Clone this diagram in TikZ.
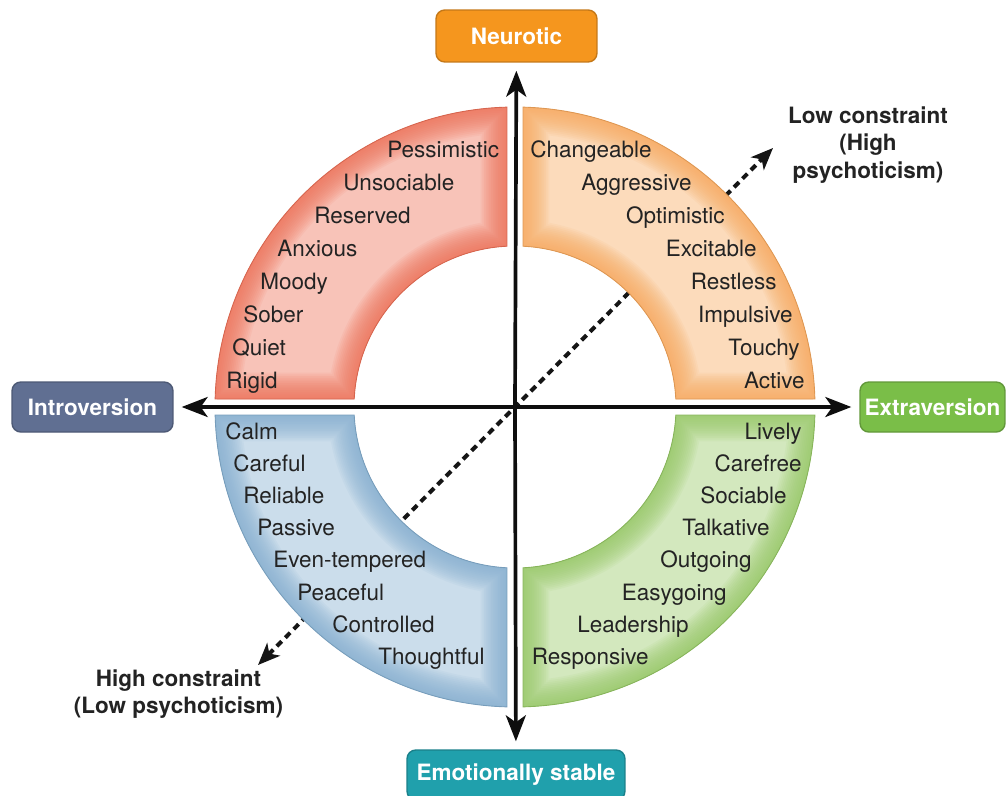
\documentclass[tikz,border=0pt]{standalone}
\usepackage{fontspec}
\setmainfont{TeX Gyre Heros}
\usetikzlibrary{arrows.meta,positioning}
\definecolor{salmon}{RGB}{238,112,86}
\definecolor{peach}{RGB}{247,168,92}
\definecolor{sprout}{RGB}{150,200,100}
\definecolor{sky}{RGB}{132,174,208}
\definecolor{tangerine}{RGB}{245,150,30}
\definecolor{slate}{RGB}{96,111,146}
\definecolor{grass}{RGB}{122,190,72}
\definecolor{lagoon}{RGB}{32,160,172}
\definecolor{ink}{RGB}{35,35,35}
% one quarter of the ring, #1 = angle offset
\newcommand\ringpath[1]{({#1+88.47}:300) arc[start angle={#1+88.47},end angle={#1+1.53},radius=300]
  -- ({#1+2.85}:161) arc[start angle={#1+2.85},end angle={#1+87.15},radius=161] -- cycle}
\tikzset{
  x=0.02cm,y=0.02cm,
  axis/.style={-{Stealth[length=0.52cm,width=0.4cm,inset=0.14cm]},line width=2.1pt,draw=ink!40!black,
    shorten >=0.16cm},
  constraint/.style={{Stealth[length=0.44cm,width=0.36cm,inset=0.12cm]}-{Stealth[length=0.44cm,width=0.36cm,inset=0.12cm]},
    line width=2.3pt,draw=ink!60!black,dash pattern=on 0.14cm off 0.1cm},
  axislabel/.style={fill=#1,draw=#1!80!black,line width=0.8pt,rounded corners=5pt,text=white,
    font=\fontsize{12.8}{15}\selectfont\bfseries,minimum height=1.0cm,inner sep=0pt},
  note/.style={font=\fontsize{12.8}{15.6}\selectfont\bfseries,text=ink,inner sep=0pt,align=center},
  word/.style={font=\fontsize{12.8}{15}\selectfont,text=ink,inner sep=0pt},
  pics/ringpart/.style 2 args={code={
    \fill[#2!42!white] \ringpath{#1};
    \begin{scope}
      \clip \ringpath{#1};
      \foreach \w in {2,4,...,30} \draw[#2,line width=\w pt,opacity=0.09] \ringpath{#1};
    \end{scope}
    \draw[#2!90!black,line width=0.5pt] \ringpath{#1};
  }},
}
\begin{document}
\begin{tikzpicture}
  \useasboundingbox (-515,-388) rectangle (491,407);
  \coordinate (c) at (0,0);
  \coordinate (lo) at (-257,-258);
  \coordinate (hi) at (258,259);
  \draw[constraint] (lo) -- (hi);
  \pic at (c) {ringpart={0}{peach}};
  \pic at (c) {ringpart={90}{salmon}};
  \pic at (c) {ringpart={180}{sky}};
  \pic at (c) {ringpart={270}{sprout}};
  \node[axislabel=tangerine,minimum width=3.22cm,minimum height=1.04cm] (neu) at (1.5,371) {Neurotic};
  \node[axislabel=slate,minimum width=3.22cm] (intro) at (-422.5,0) {Introversion};
  \node[axislabel=grass,minimum width=2.9cm] (extra) at (417.5,0) {Extraversion};
  \node[axislabel=lagoon,minimum width=4.36cm] (emo) at (1,-368) {Emotionally stable};
  \draw[axis] (c) -- (neu);
  \draw[axis] (c) -- (emo);
  \draw[axis] (c) -- (intro);
  \draw[axis] (c) -- (extra);
  \node[note] (lowc) at (353,262) {Low constraint\\(High\\psychoticism)};
  \node[note] (highc) at (-336.5,-287) {High constraint\\(Low psychoticism)};
  % trait words
  \foreach \t/\x [count=\i from 0] in {Pessimistic/-128,Unsociable/-172,Reserved/-201,Anxious/-238,
      Moody/-255,Sober/-272,Quiet/-283,Rigid/-289}
    \node[word,anchor=base west] (tl\i) at (\x,{249.5-33*\i}) {\t};
  \foreach \t/\x [count=\i from 0] in {Changeable/137,Aggressive/177,Optimistic/210,Excitable/242,
      Restless/262,Impulsive/278,Touchy/285,Active/290}
    \node[word,anchor=base east] (tr\i) at (\x,{249.5-33*\i}) {\t};
  \foreach \t/\x [count=\i from 0] in {Calm/-290,Careful/-282,Reliable/-272,Passive/-258,
      Even-tempered/-242,Peaceful/-218,Controlled/-183,Thoughtful/-137}
    \node[word,anchor=base west] (bl\i) at (\x,{-32-32.2*\i}) {\t};
  \foreach \t/\x [count=\i from 0] in {Lively/287,Carefree/287,Sociable/272,Talkative/255,
      Outgoing/237,Easygoing/212,Leadership/174,Responsive/134}
    \node[word,anchor=base east] (br\i) at (\x,{-32-32.2*\i}) {\t};
\end{tikzpicture}
\end{document}
